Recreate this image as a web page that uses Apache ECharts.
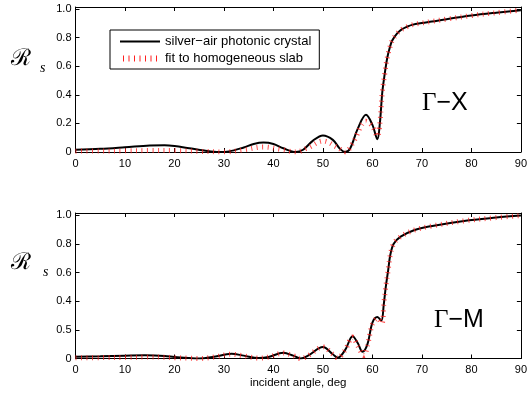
<!DOCTYPE html>
<html>
<head>
<meta charset="utf-8">
<script src="https://cdn.jsdelivr.net/npm/echarts@6/dist/echarts.min.js"></script>
<style>
html,body{margin:0;padding:0;background:#fff;}
#chart{width:530px;height:401px;}
</style>
</head>
<body>
<div id="chart"></div>
<script>
// ---- data ----
var xTicks = [0, 10, 20, 30, 40, 50, 60, 70, 80, 90];
var yTickValues = [0, 0.2, 0.4, 0.6, 0.8, 1.0];
var yTickLabelsTop = ['0', '0.2', '0.4', '0.6', '0.8', '1.0'];
var yTickLabelsBottom = ['0', '0.5', '0.4', '0.6', '0.8', '1.0'];
var seriesNames = ['silver\u2212air photonic crystal', 'fit to homogeneous slab'];
var panelLabels = ['\u0393\u2212X', '\u0393\u2212M'];

// Γ-X : photonic crystal
var gxCrystal = [
  [0,0.016],[5,0.022],[10,0.033],[15,0.045],[18,0.047],[20,0.042],[23,0.026],[26,0.01],[29,0.0],[31,0.004],
  [34,0.032],[36,0.056],[38,0.066],[40,0.056],[42,0.026],[44.5,0.0],[46,0.016],[48,0.08],[50,0.116],[52,0.085],
  [53.5,0.02],[54.5,0.0],[55.5,0.025],[57,0.16],[58.7,0.26],[60,0.19],[61,0.09],[61.5,0.2],[62,0.42],[62.5,0.55],
  [63,0.66],[63.5,0.73],[64,0.78],[65,0.83],[66,0.86],[67,0.877],[68,0.89],[70,0.903],[72,0.913],[75,0.93],
  [80,0.955],[85,0.975],[90,0.993]
];
// Γ-X : homogeneous slab fit
var gxFit = [
  [0,0.006],[5,0.007],[10,0.008],[15,0.01],[20,0.01],[25,0.005],[30,0.0],[34,0.015],[38,0.035],[42,0.015],
  [44.5,0.0],[47,0.03],[50,0.077],[53,0.03],[54.5,0.0],[56,0.06],[58.7,0.215],[60,0.18],[61,0.11],[61.5,0.2],
  [62,0.42],[62.5,0.55],[63,0.66],[63.5,0.73],[64,0.78],[65,0.83],[66,0.86],[67,0.877],[68,0.89],[70,0.903],
  [72,0.914],[75,0.93],[80,0.955],[85,0.975],[90,0.993]
];
// Γ-M : photonic crystal
var gmCrystal = [
  [0,0.012],[5,0.015],[10,0.02],[14,0.022],[18,0.018],[20,0.01],[23,0.003],[25,0.0],[28,0.012],[31.5,0.033],
  [34,0.02],[37,0.003],[39,0.01],[42,0.04],[44,0.02],[45.5,0.0],[47,0.02],[50,0.08],[52,0.03],[53,0.005],
  [54.5,0.06],[56,0.155],[57,0.11],[58,0.047],[59,0.1],[60,0.25],[61,0.29],[61.8,0.265],[62.3,0.38],[62.7,0.5],
  [63.2,0.62],[63.6,0.72],[64.3,0.8],[65.7,0.85],[68.4,0.895],[71.8,0.923],[78.5,0.96],[85,0.983],[90,0.997]
];
// Γ-M : homogeneous slab fit
var gmFit = [
  [0,0.005],[5,0.006],[10,0.008],[14,0.01],[18,0.009],[20,0.006],[23,0.002],[25,0.0],[28,0.01],[31.5,0.03],
  [34,0.018],[37,0.003],[39,0.01],[42,0.038],[44,0.02],[45.5,0.0],[47,0.02],[50,0.08],[52,0.03],[53,0.005],
  [54.5,0.06],[56,0.15],[57,0.09],[58.3,0.02],[59,0.09],[60,0.24],[61,0.28],[61.9,0.245],[62.3,0.38],[62.7,0.5],
  [63.2,0.62],[63.6,0.72],[64.3,0.8],[65.7,0.85],[68.4,0.895],[71.8,0.923],[78.5,0.96],[85,0.983],[90,0.997]
];

// ---- chart ----
var FONT = 'Liberation Sans, Arial, sans-serif';
var chart = echarts.init(document.getElementById('chart'));

function yFmt(labels) {
  return function (v) {
    for (var i = 0; i < yTickValues.length; i++) {
      if (Math.abs(v - yTickValues[i]) < 1e-6) return labels[i];
    }
    return '';
  };
}
function xAxisDef(gi, pos, showLabels, name) {
  return {
    type: 'value', gridIndex: gi, position: pos, min: 0, max: 90, interval: 10,
    axisLine: { show: true, onZero: false, lineStyle: { color: '#000', width: 1 } },
    axisTick: { show: true, inside: true, length: 4, lineStyle: { color: '#000' } },
    axisLabel: { show: showLabels, color: '#000', fontSize: 11, fontFamily: FONT, margin: 6 },
    splitLine: { show: false },
    name: name || '', nameLocation: 'middle', nameGap: 17,
    nameTextStyle: { color: '#000', fontSize: 11.5, fontFamily: FONT }
  };
}
function yAxisDef(gi, pos, labels) {
  return {
    type: 'value', gridIndex: gi, position: pos, min: 0, max: 1.015, interval: 0.2,
    axisLine: { show: true, onZero: false, lineStyle: { color: '#000', width: 1 } },
    axisTick: { show: true, inside: true, length: 4, lineStyle: { color: '#000' } },
    axisLabel: { show: !!labels, color: '#000', fontSize: 11, fontFamily: FONT, margin: 4,
                 formatter: labels ? yFmt(labels) : undefined, showMaxLabel: false },
    splitLine: { show: false }
  };
}
function crystalSeries(xi, yi, data) {
  return { name: seriesNames[0], type: 'line', xAxisIndex: xi, yAxisIndex: yi, data: data,
    smooth: 0.35, showSymbol: false, symbol: 'none', clip: true,
    lineStyle: { color: '#000', width: 2 }, itemStyle: { color: '#000' }, z: 3 };
}
function fitSeries(xi, yi, data) {
  return { name: seriesNames[1], type: 'line', xAxisIndex: xi, yAxisIndex: yi, data: data,
    smooth: 0.35, showSymbol: false, symbol: 'none', clip: true,
    lineStyle: { color: 'rgba(255,30,30,0.8)', width: 5, type: [1, 4.5] }, itemStyle: { color: '#ff2020' }, z: 4 };
}

var redIcon = 'path://M0,0h1v6h-1zM5.5,0h1v6h-1zM11,0h1v6h-1zM16.5,0h1v6h-1zM22,0h1v6h-1zM27.5,0h1v6h-1zM33,0h1v6h-1z';
var blackIcon = 'path://M0,0h40v2h-40z';

var option = {
  animation: false,
  backgroundColor: '#fff',
  grid: [
    { left: 75.5, right: 8.3, top: 7, height: 145 },
    { left: 75.5, right: 8.3, top: 213, height: 145.5 }
  ],
  xAxis: [
    xAxisDef(0, 'bottom', true), xAxisDef(0, 'top', false),
    xAxisDef(1, 'bottom', true, 'incident angle, deg'), xAxisDef(1, 'top', false)
  ],
  yAxis: [
    yAxisDef(0, 'left', yTickLabelsTop), yAxisDef(0, 'right', null),
    yAxisDef(1, 'left', yTickLabelsBottom), yAxisDef(1, 'right', null)
  ],
  legend: {
    left: 110, top: 30, orient: 'vertical', selectedMode: false,
    itemWidth: 40, itemHeight: 6, itemGap: 4,
    padding: [5, 8, 4, 10],
    borderColor: '#000', borderWidth: 1, backgroundColor: '#fff',
    textStyle: { color: '#000', fontSize: 13, fontFamily: FONT },
    data: [
      { name: seriesNames[0], icon: blackIcon, itemStyle: { color: '#000' } },
      { name: seriesNames[1], icon: redIcon, itemStyle: { color: '#ff2020' } }
    ]
  },
  graphic: [
    { type: 'text', left: 422, top: 91, style: { rich: {
        g: { fontFamily: 'Liberation Serif, serif', fontSize: 25, fill: '#000' },
        t: { fontFamily: FONT, fontSize: 25, fill: '#000' } },
        text: '{g|\u0393}{t|\u2212X}' } },
    { type: 'text', left: 434, top: 308, style: { rich: {
        g: { fontFamily: 'Liberation Serif, serif', fontSize: 25, fill: '#000' },
        t: { fontFamily: FONT, fontSize: 25, fill: '#000' } },
        text: '{g|\u0393}{t|\u2212M}' } },
    { type: 'text', left: 11, top: 48, style: { text: '\u211B', fontFamily: 'DejaVu Serif, serif', fontSize: 23, fill: '#000' } },
    { type: 'text', left: 40, top: 61, style: { text: 's', fontFamily: 'Liberation Serif, serif', fontStyle: 'italic', fontSize: 14, fill: '#000' } },
    { type: 'text', left: 11, top: 252, style: { text: '\u211B', fontFamily: 'DejaVu Serif, serif', fontSize: 23, fill: '#000' } },
    { type: 'text', left: 43, top: 265, style: { text: 's', fontFamily: 'Liberation Serif, serif', fontStyle: 'italic', fontSize: 14, fill: '#000' } }
  ],
  series: [
    crystalSeries(0, 0, gxCrystal),
    fitSeries(0, 0, gxFit),
    crystalSeries(2, 2, gmCrystal),
    fitSeries(2, 2, gmFit)
  ]
};
chart.setOption(option);
</script>
</body>
</html>
